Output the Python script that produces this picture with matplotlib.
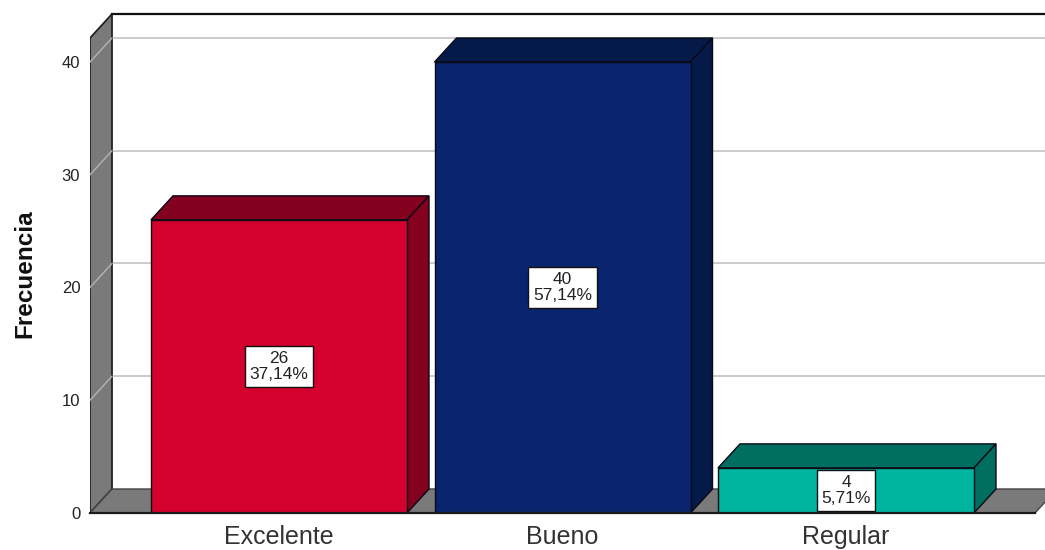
import matplotlib
matplotlib.use('Agg')
import matplotlib.pyplot as plt
from matplotlib.patches import Polygon

plt.rcParams['font.family'] = ['Liberation Sans', 'DejaVu Sans']

categories = ['Excelente', 'Bueno', 'Regular']
frequencies = [26, 40, 4]
percent_labels = ['37,14%', '57,14%', '5,71%']
y_ticks = [0, 10, 20, 30, 40]

front_colors = ['#D4002D', '#08246E', '#00B5A0']
top_colors = ['#84001F', '#051A48', '#006E60']
side_colors = ['#84001F', '#051A48', '#006E60']

# depth of the fake 3D box, in data units
dx = 22 / 283.5
dy = 24 / 11.275
bar_w = 256 / 283.5
y_top = (513 - 38) / 11.275
x_left = (90 - 279) / 283.5
x_right = (1045 - 279) / 283.5
x_floor = (1035 - 279) / 283.5

fig = plt.figure(figsize=(10.45, 5.5), dpi=100)
ax = fig.add_axes([90 / 1045, 37 / 550, 955 / 1045, 499 / 550])
ax.set_xlim(x_left, x_right)
ax.set_ylim(0, y_top + dy)

for s in ax.spines.values():
    s.set_visible(False)

# left wall and floor
ax.add_patch(Polygon([(x_left, 0), (x_left + dx, dy), (x_left + dx, y_top + dy), (x_left, y_top)],
                     fc='#7A7A7A', ec='#222222', lw=1.3, zorder=2))
ax.add_patch(Polygon([(x_left, 0), (x_left + dx, dy), (x_floor + dx, dy), (x_floor, 0)],
                     fc='#7A7A7A', ec='#444444', lw=1, zorder=2))

# back wall edge
ax.plot([x_left + dx, x_right], [y_top + dy, y_top + dy], color='#111111', lw=1.6, zorder=3, clip_on=False)

# gridlines on back wall and left wall
for t in y_ticks[1:]:
    ax.plot([x_left + dx, x_right], [t + dy, t + dy], color='#C8C8C8', lw=1.3, zorder=1)
    ax.plot([x_left, x_left + dx], [t, t + dy], color='#B4B4B4', lw=1, zorder=3)

# bars
for i, v in enumerate(frequencies):
    x0 = i - bar_w / 2
    x1 = i + bar_w / 2
    ax.add_patch(Polygon([(x0, v), (x0 + dx, v + dy), (x1 + dx, v + dy), (x1, v)],
                         fc=top_colors[i], ec='#0A0A14', lw=1, zorder=4))
    ax.add_patch(Polygon([(x1, 0), (x1 + dx, dy), (x1 + dx, v + dy), (x1, v)],
                         fc=side_colors[i], ec='#0A0A14', lw=1, zorder=4))
    ax.bar(i, v, width=bar_w, color=front_colors[i], edgecolor='#0A0A14', lw=1, zorder=5)
    ax.text(i, v / 2, f'{v}\n{percent_labels[i]}', ha='center', va='center', fontsize=12.5,
            linespacing=1.12, color='#222222', zorder=6,
            bbox=dict(boxstyle='square,pad=0.26', fc='white', ec='#111111', lw=1))

# front floor line
ax.plot([x_left, x_floor], [0, 0], color='#1A1A1A', lw=1.6, zorder=7, clip_on=False)

ax.set_xticks(range(len(categories)))
ax.set_xticklabels(categories, fontsize=18, color='#333333')
ax.set_yticks(y_ticks)
ax.tick_params(axis='x', length=0, pad=8.5)
ax.tick_params(axis='y', length=0, pad=7, labelsize=12, labelcolor='#222222')
ax.set_ylabel('Frecuencia', fontsize=17.5, fontweight='bold', color='#111111')
ax.yaxis.set_label_coords(-54 / 955, 0.479)

fig.savefig('out.png', dpi=100)
